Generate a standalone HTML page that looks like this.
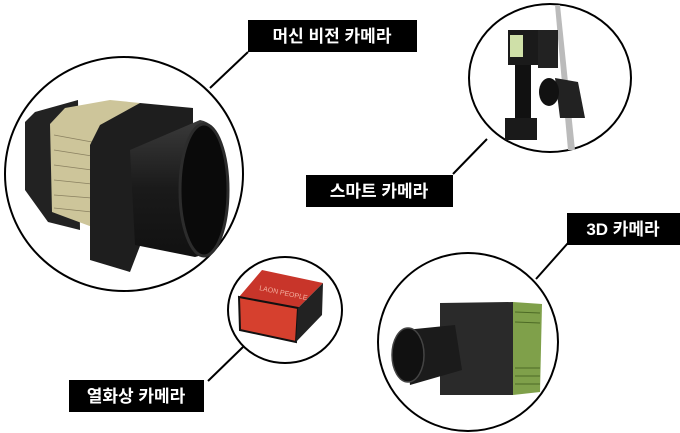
<!DOCTYPE html>
<html><head><meta charset="utf-8"><style>
html,body{margin:0;padding:0;background:#fff;width:680px;height:433px;overflow:hidden}
svg{display:block}
.lbl{font-family:"Liberation Sans","Noto Sans CJK KR",sans-serif;font-size:17px;font-weight:bold;fill:#fff}
</style></head><body>
<svg width="680" height="433" viewBox="0 0 680 433" xmlns="http://www.w3.org/2000/svg">
<defs>
<linearGradient id="tube" x1="0" y1="0" x2="0" y2="1"><stop offset="0" stop-color="#3a3a3a"/><stop offset="0.5" stop-color="#1a1a1a"/><stop offset="1" stop-color="#111"/></linearGradient>
</defs>
<g stroke="#000" stroke-width="2" fill="none">
<line x1="248" y1="52" x2="210" y2="88"/>
<line x1="453" y1="174" x2="487" y2="139"/>
<line x1="568" y1="243" x2="536" y2="279"/>
<line x1="208" y1="381" x2="243" y2="347"/>
</g>
<!-- big circle camera -->
<ellipse cx="124" cy="174" rx="119" ry="117" fill="#fff" stroke="#000" stroke-width="2"/>
<polygon points="25,122 35,112 78,100 80,230 48,222 25,190" fill="#222"/>
<polygon points="50,124 65,108 110,100 140,103 95,140 95,228 52,212" fill="#cdc59a"/>
<g stroke="#8a8060" stroke-width="0.8">
<line x1="54" y1="135" x2="92" y2="142"/><line x1="54" y1="150" x2="92" y2="156"/><line x1="54" y1="165" x2="92" y2="170"/><line x1="54" y1="180" x2="92" y2="184"/><line x1="54" y1="195" x2="92" y2="198"/><line x1="54" y1="208" x2="92" y2="212"/>
</g>
<polygon points="90,145 100,125 140,103 193,108 193,190 150,220 130,272 90,260" fill="#1e1e1e"/>
<path d="M130,150 L200,120 Q228,125 228,190 Q225,250 195,257 L135,245 Z" fill="url(#tube)"/>
<ellipse cx="204" cy="190" rx="24" ry="66" fill="#0a0a0a" stroke="#2c2c2c" stroke-width="3"/>
<!-- top right circle -->
<ellipse cx="550" cy="78" rx="81" ry="74" fill="#fff" stroke="#000" stroke-width="2"/>
<polygon points="555,5 560,5 575,150 568,150" fill="#bbb"/>
<rect x="508" y="30" width="30" height="35" fill="#1a1a1a"/>
<rect x="510" y="35" width="13" height="22" fill="#cfe0a8"/>
<rect x="538" y="30" width="20" height="38" fill="#222"/>
<rect x="515" y="65" width="16" height="55" fill="#111"/>
<rect x="505" y="118" width="32" height="22" fill="#1a1a1a"/>
<path d="M555,78 L578,82 L585,118 L560,118 Z" fill="#222"/>
<ellipse cx="549" cy="92" rx="10" ry="14" fill="#111"/>
<!-- small circle -->
<ellipse cx="285" cy="310" rx="57" ry="53" fill="#fff" stroke="#000" stroke-width="2"/>
<polygon points="239,297 262,270 323,283 298,308" fill="#c8352a"/>
<polygon points="239,297 298,308 296,342 240,330" fill="#d6402e" stroke="#111" stroke-width="2"/>
<polygon points="298,308 323,283 322,315 296,342" fill="#222"/>
<text x="259" y="290" font-family="Liberation Sans,sans-serif" font-size="7" fill="#f3b0a0" transform="rotate(12 259 290)">LAON PEOPLE</text>
<!-- bottom right circle -->
<ellipse cx="468" cy="342" rx="90" ry="89" fill="#fff" stroke="#000" stroke-width="2"/>
<polygon points="440,303 513,302 513,395 440,395" fill="#2a2a2a"/>
<polygon points="513,302 542,304 540,392 513,395" fill="#7fa04a"/>
<g stroke="#4d6a25" stroke-width="1"><line x1="515" y1="312" x2="540" y2="313"/><line x1="515" y1="322" x2="540" y2="323"/><line x1="515" y1="368" x2="540" y2="368"/><line x1="515" y1="376" x2="540" y2="376"/><line x1="515" y1="384" x2="540" y2="384"/></g>
<polygon points="405,330 455,325 462,370 410,385" fill="#1b1b1b"/>
<ellipse cx="408" cy="355" rx="16" ry="27" fill="#111" stroke="#444" stroke-width="1.5"/>
<!-- labels -->
<rect x="248" y="20" width="169" height="32" fill="#000"/>
<text class="lbl" x="332" y="42" text-anchor="middle">머신 비전 카메라</text>
<rect x="306" y="175" width="147" height="32" fill="#000"/>
<text class="lbl" x="379" y="197" text-anchor="middle">스마트 카메라</text>
<rect x="567" y="213" width="113" height="32" fill="#000"/>
<text class="lbl" x="623" y="235" text-anchor="middle">3D 카메라</text>
<rect x="69" y="380" width="135" height="32" fill="#000"/>
<text class="lbl" x="136" y="402" text-anchor="middle">열화상 카메라</text>
</svg>
</body></html>
